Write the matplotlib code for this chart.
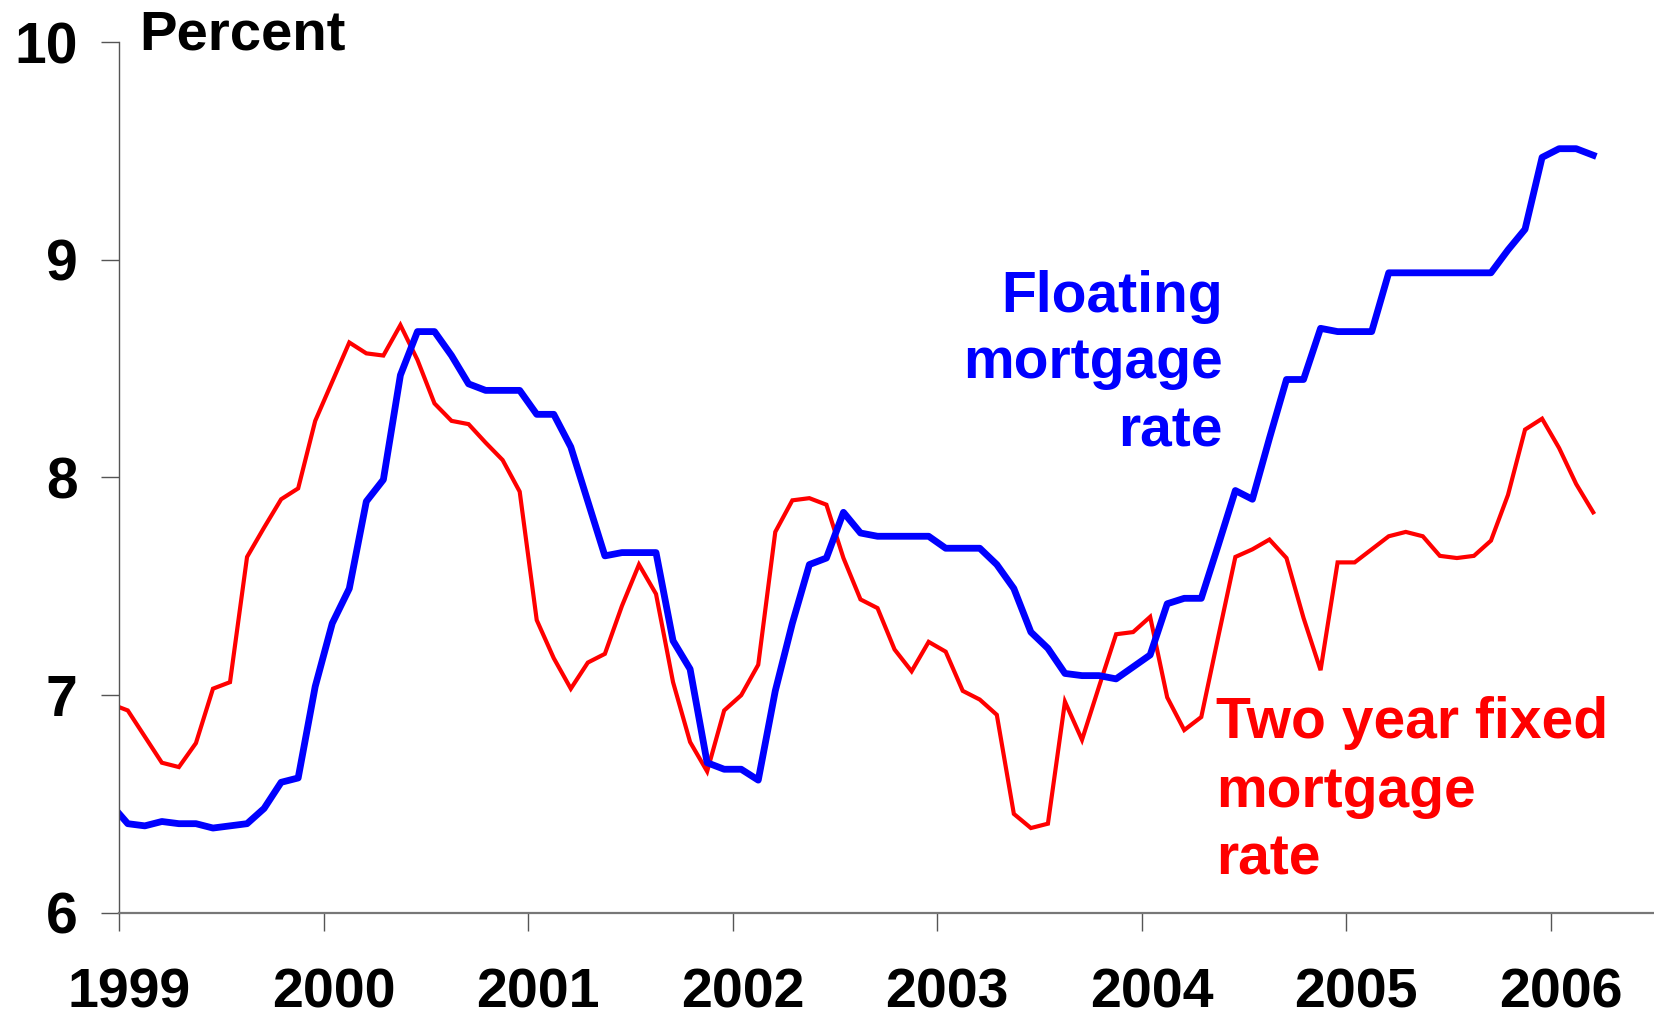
import pandas as pd
import matplotlib
matplotlib.use("Agg")
import matplotlib.pyplot as plt
from matplotlib.transforms import ScaledTranslation

# Monthly data, Dec 1998 - Mar 2006 (percent)
meses = pd.date_range("1998-12-01", periods=88, freq="MS")

flutuante = [
    6.50,
    6.41, 6.40, 6.42, 6.41, 6.41, 6.39, 6.40, 6.41, 6.48, 6.60, 6.62, 7.04,   # 1999
    7.33, 7.49, 7.89, 7.99, 8.47, 8.67, 8.67, 8.56, 8.43, 8.40, 8.40, 8.40,   # 2000
    8.29, 8.29, 8.14, 7.89, 7.64, 7.655, 7.655, 7.655, 7.25, 7.12, 6.69, 6.66,  # 2001
    6.66, 6.61, 7.02, 7.33, 7.60, 7.63, 7.84, 7.745, 7.73, 7.73, 7.73, 7.73,  # 2002
    7.675, 7.675, 7.675, 7.60, 7.49, 7.29, 7.215, 7.10, 7.09, 7.09, 7.075, 7.13,  # 2003
    7.185, 7.42, 7.445, 7.445, 7.69, 7.94, 7.90, 8.18, 8.45, 8.45, 8.685, 8.67,  # 2004
    8.67, 8.67, 8.94, 8.94, 8.94, 8.94, 8.94, 8.94, 8.94, 9.045, 9.14, 9.47,  # 2005
    9.51, 9.51, 9.48,                                                          # 2006
]

fixa_2anos = [
    6.96,
    6.93, 6.81, 6.69, 6.67, 6.78, 7.03, 7.06, 7.635, 7.77, 7.90, 7.95, 8.26,  # 1999
    8.44, 8.62, 8.57, 8.56, 8.70, 8.54, 8.34, 8.26, 8.245, 8.16, 8.08, 7.935,  # 2000
    7.345, 7.17, 7.03, 7.15, 7.19, 7.41, 7.60, 7.465, 7.06, 6.785, 6.65, 6.93,  # 2001
    7.00, 7.14, 7.75, 7.895, 7.905, 7.875, 7.63, 7.44, 7.40, 7.21, 7.11, 7.245,  # 2002
    7.20, 7.02, 6.98, 6.91, 6.455, 6.39, 6.41, 6.97, 6.795, 7.04, 7.28, 7.29,  # 2003
    7.36, 6.99, 6.84, 6.90, 7.27, 7.635, 7.67, 7.715, 7.63, 7.355, 7.115, 7.61,  # 2004
    7.61, 7.67, 7.73, 7.75, 7.73, 7.64, 7.63, 7.64, 7.71, 7.92, 8.22, 8.27,  # 2005
    8.135, 7.97, 7.84,                                                         # 2006
]

anos = list(range(1999, 2007))

# decimal year, point plotted at mid-month
x = meses.year + (meses.month - 0.5) / 12.0

plt.rcParams['font.family'] = ['Liberation Sans', 'DejaVu Sans']
plt.rcParams['font.weight'] = 'bold'

fig = plt.figure(figsize=(16.54, 10.22), dpi=100)
ax = fig.add_axes([0.0721, 0.1067, 0.9272, 0.8522])

ax.plot(x, fixa_2anos, color='#ff0000', lw=3.0, solid_joinstyle='miter')
ax.plot(x, flutuante, color='#0000ff', lw=4.9, solid_joinstyle='round')

ax.set_xlim(1999, 2006.5)
ax.set_ylim(6, 10)
ax.set_xticks(anos)
ax.set_xticklabels([str(a) for a in anos])
ax.set_yticks([6, 7, 8, 9, 10])

for lado in ['top', 'right']:
    ax.spines[lado].set_visible(False)
ax.spines['left'].set_color('#555555')
ax.spines['left'].set_linewidth(1.0)
ax.spines['bottom'].set_color('#777777')
ax.spines['bottom'].set_linewidth(1.6)

ax.tick_params(axis='y', direction='out', length=13, width=1, color='#555555',
               labelsize=41, pad=17)
ax.tick_params(axis='x', direction='out', length=13, width=1, color='#555555',
               labelsize=40, pad=26)
for lbl in ax.get_xticklabels():
    lbl.set_transform(lbl.get_transform() + ScaledTranslation(0.10, 0, fig.dpi_scale_trans))
for lbl in ax.get_xticklabels() + ax.get_yticklabels():
    lbl.set_fontweight('bold')

ax.text(1999.10, 9.965, 'Percent', fontsize=40.5, fontweight='bold', va='baseline',
        ha='left', clip_on=False)

# series labels
for texto, yy in zip(['Floating', 'mortgage', 'rate'], [8.76, 8.457, 8.14]):
    ax.text(2004.398, yy, texto, color='#0000ff', fontsize=41, fontweight='bold',
            ha='right', va='baseline')
for texto, yy in zip(['Two year fixed', 'mortgage', 'rate'], [6.804, 6.487, 6.175]):
    ax.text(2004.364, yy, texto, color='#ff0000', fontsize=41, fontweight='bold',
            ha='left', va='baseline')

fig.savefig('out.png', dpi=100)
